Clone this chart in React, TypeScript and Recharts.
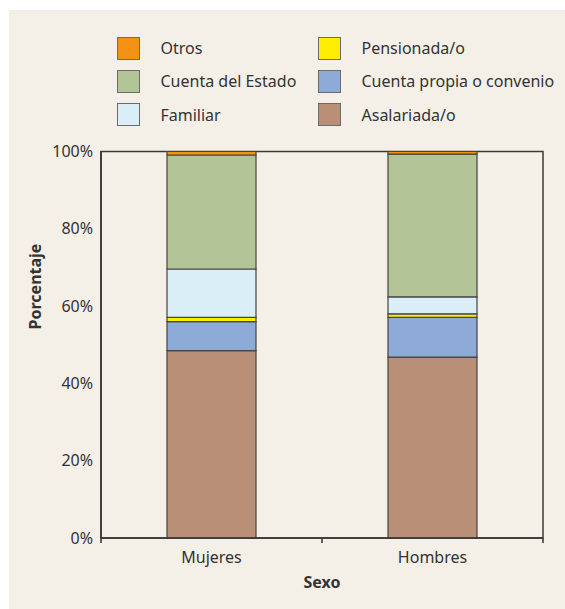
import { BarChart, Bar, XAxis, YAxis, ReferenceArea, Label } from 'recharts';

const categories = ['Mujeres', 'Hombres'];
const asalariada = [48.5, 46.8];
const cuentaPropia = [7.5, 10.3];
const pensionada = [1.1, 0.9];
const familiar = [12.5, 4.4];
const cuentaEstado = [29.5, 36.9];
const otros = [0.9, 0.7];
const yTicks = [0, 20, 40, 60, 80, 100];

// stacking order, bottom to top
const series = [
  { key: 'asalariada', name: 'Asalariada/o', color: '#b98f78', values: asalariada },
  { key: 'cuentaPropia', name: 'Cuenta propia o convenio', color: '#8eabd8', values: cuentaPropia },
  { key: 'pensionada', name: 'Pensionada/o', color: '#ffed00', values: pensionada },
  { key: 'familiar', name: 'Familiar', color: '#d9eef7', values: familiar },
  { key: 'cuentaEstado', name: 'Cuenta del Estado', color: '#b3c597', values: cuentaEstado },
  { key: 'otros', name: 'Otros', color: '#f39112', values: otros },
];

// legend: two columns, read row by row
const legendOrder = ['otros', 'pensionada', 'cuentaEstado', 'cuentaPropia', 'familiar', 'asalariada'];

const data = categories.map((sexo, i) => {
  const row: any = { sexo };
  series.forEach((s) => (row[s.key] = s.values[i]));
  return row;
});

const W = 556;
const H = 599;
const M = { top: 141.5, right: 22, left: 0, bottom: 0 };
const Y_W = 92;
const X_H = 71;
const HALF_BAND = (W - Y_W - M.right) / categories.length / 2;
const TEXT = '#333';
const FONT = '"Noto Sans", sans-serif';

const XTick = ({ x, y, payload, index }: any) => (
  <g>
    <line x1={x - HALF_BAND} y1={y} x2={x - HALF_BAND} y2={y + 5} stroke="#333" strokeWidth={1.5} />
    {index === categories.length - 1 && (
      <line x1={x + HALF_BAND} y1={y} x2={x + HALF_BAND} y2={y + 5} stroke="#333" strokeWidth={1.5} />
    )}
    <text x={x} y={y + 25} textAnchor="middle" fill={TEXT} fontSize={16} fontFamily={FONT}>
      {payload.value}
    </text>
  </g>
);

function LegendBox() {
  return (
    <>
      {legendOrder.map((k, i) => {
        const s = series.find((d) => d.key === k)!;
        const col = i % 2;
        const row = Math.floor(i / 2);
        return (
          <div
            key={k}
            style={{
              position: 'absolute',
              left: 107.5 + col * 201,
              top: 26.5 + row * 33.3,
              height: 23,
              display: 'flex',
              alignItems: 'center',
              fontFamily: FONT,
              fontSize: 16,
              color: TEXT,
              whiteSpace: 'nowrap',
            }}
          >
            <span
              style={{
                display: 'inline-block',
                width: 21,
                height: 21,
                background: s.color,
                border: '1px solid #6b6b6b',
                marginRight: 21,
              }}
            />
            {s.name}
          </div>
        );
      })}
    </>
  );
}

export default function App() {
  return (
    <div style={{ position: 'absolute', left: 9, top: 10, width: W, height: H, background: '#f4f0e8' }}>
      <LegendBox />
      <BarChart width={W} height={H} data={data} margin={M}>
        <XAxis
          dataKey="sexo"
          height={X_H}
          tickSize={0}
          tickMargin={0}
          tickLine={false}
          axisLine={{ stroke: '#333', strokeWidth: 1.5 }}
          tick={<XTick />}
          interval={0}
        >
          <Label
            content={({ viewBox }: any) => (
              <text
                x={viewBox.x + viewBox.width / 2}
                y={viewBox.y + 44}
                textAnchor="middle"
                dominantBaseline="central"
                fill={TEXT}
                fontSize={16}
                fontWeight="bold"
                fontFamily={FONT}
              >
                Sexo
              </text>
            )}
          />
        </XAxis>
        <YAxis
          width={Y_W}
          domain={[0, 100]}
          ticks={yTicks}
          tickFormatter={(v) => `${v}%`}
          tickLine={false}
          axisLine={{ stroke: '#333', strokeWidth: 1.5 }}
          tick={{ fill: TEXT, fontSize: 16, fontFamily: FONT }}
        >
          <Label
            content={({ viewBox }: any) => {
              const cx = 26;
              const cy = viewBox.y + 135;
              return (
                <text
                  x={cx}
                  y={cy}
                  transform={`rotate(-90, ${cx}, ${cy})`}
                  textAnchor="middle"
                  dominantBaseline="central"
                  fill={TEXT}
                  fontSize={16}
                  fontWeight="bold"
                  fontFamily={FONT}
                >
                  Porcentaje
                </text>
              );
            }}
          />
        </YAxis>
        {/* plot frame (top and right edges) */}
        <ReferenceArea y1={0} y2={100} fill="none" stroke="#3a3a3a" strokeWidth={1.5} ifOverflow="visible" />
        {series.map((s) => (
          <Bar
            key={s.key}
            dataKey={s.key}
            name={s.name}
            stackId="a"
            fill={s.color}
            stroke="#444"
            strokeWidth={1.2}
            barSize={89}
            isAnimationActive={false}
          />
        ))}
      </BarChart>
    </div>
  );
}
